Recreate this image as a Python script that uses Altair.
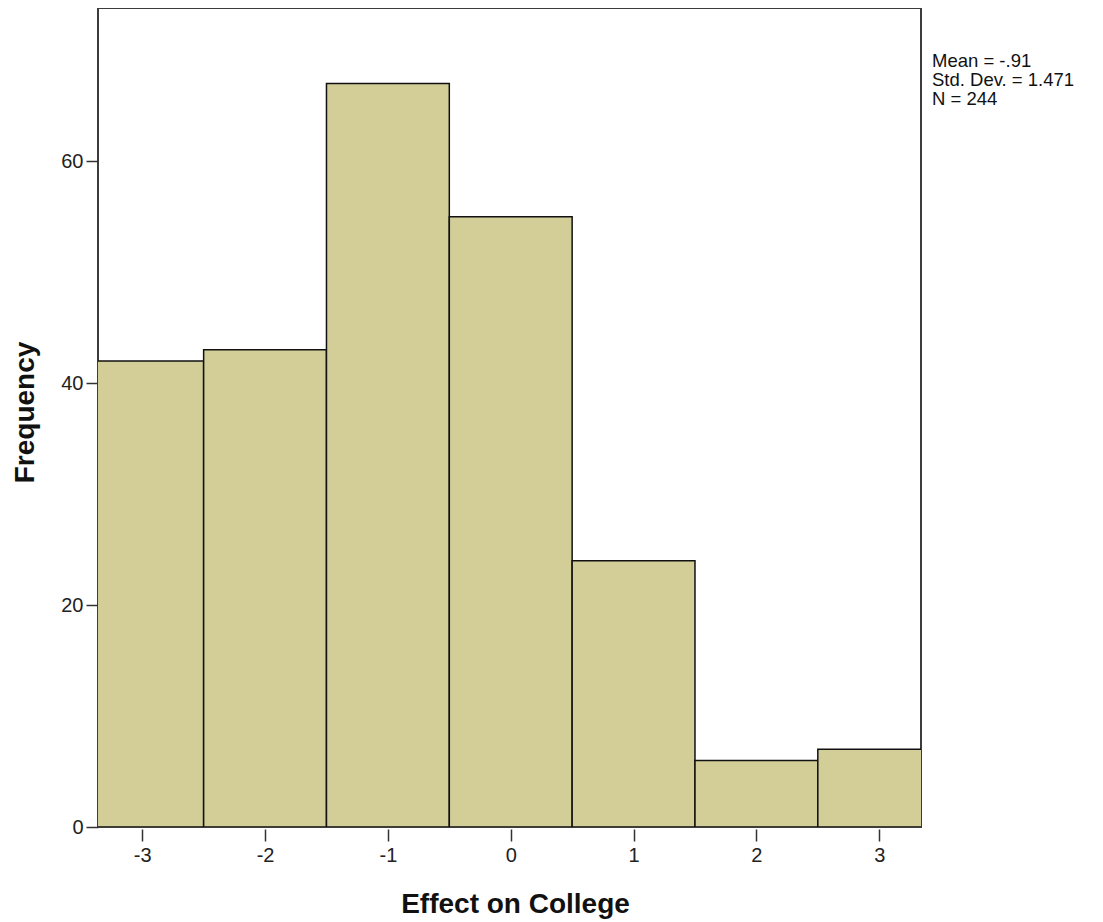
import altair as alt
import pandas as pd

# Histogram data (bin centres and counts)
effect_values = [-3, -2, -1, 0, 1, 2, 3]
frequencies = [42, 43, 67, 55, 24, 6, 7]
x_ticks = [-3, -2, -1, 0, 1, 2, 3]
y_ticks = [0, 20, 40, 60]
stats_lines = ["Mean = -.91", "Std. Dev. = 1.471", "N = 244"]

df = pd.DataFrame({"value": effect_values, "count": frequencies})
df["start"] = df["value"] - 0.5
df["end"] = df["value"] + 0.5

FONT = "Liberation Sans"
W, H = 823, 819

x_scale = alt.Scale(domain=[-3.36, 3.34], nice=False, zero=False)
y_scale = alt.Scale(domain=[0, 73.8], nice=False, zero=True)

bars = alt.Chart(df).mark_bar(
    clip=True, fill="#D3CE98", stroke="#111111", strokeWidth=1.5
).encode(
    x=alt.X("start:Q", scale=x_scale, axis=alt.Axis(
        values=x_ticks, title="Effect on College", grid=False, domain=False,
        offset=2, tickSize=12, tickWidth=1.5, tickColor="#333333",
        labelExpr="datum.value + ''",
        labelFontSize=20, labelFont=FONT, labelColor="#222222", labelPadding=4,
        titleFont=FONT, titleFontSize=28, titleFontWeight="bold", titleColor="#111111",
        titleX=417, titleY=83, titleBaseline="alphabetic", titleAlign="center",
    )),
    x2="end:Q",
    y=alt.Y("count:Q", scale=y_scale, axis=alt.Axis(
        values=y_ticks, title="Frequency", grid=False, domain=False,
        tickSize=12, tickWidth=1.5, tickColor="#333333",
        labelFontSize=20, labelFont=FONT, labelColor="#222222", labelPadding=3,
        titleFont=FONT, titleFontSize=28, titleFontWeight="bold", titleColor="#111111",
        titleAngle=270, titleX=-65, titleY=404, titleBaseline="alphabetic", titleAlign="center",
    )),
    y2=alt.datum(0),
)

stats = alt.Chart(pd.DataFrame({"text": ["\n".join(stats_lines)]})).mark_text(
    align="left", baseline="alphabetic", lineBreak="\n", lineHeight=19,
    fontSize=18.5, font=FONT, color="#111111"
).encode(
    x=alt.value(834), y=alt.value(59), text="text:N"
)

chart = alt.layer(bars, stats).properties(
    width=W, height=H,
    autosize=alt.AutoSizeParams(type="none"),
    padding={"left": 90, "top": 0, "right": 172, "bottom": 95},
).configure_view(stroke="#3c3c3c", strokeWidth=2)

chart.save("out.html", embed_options={"renderer": "svg", "actions": False})
